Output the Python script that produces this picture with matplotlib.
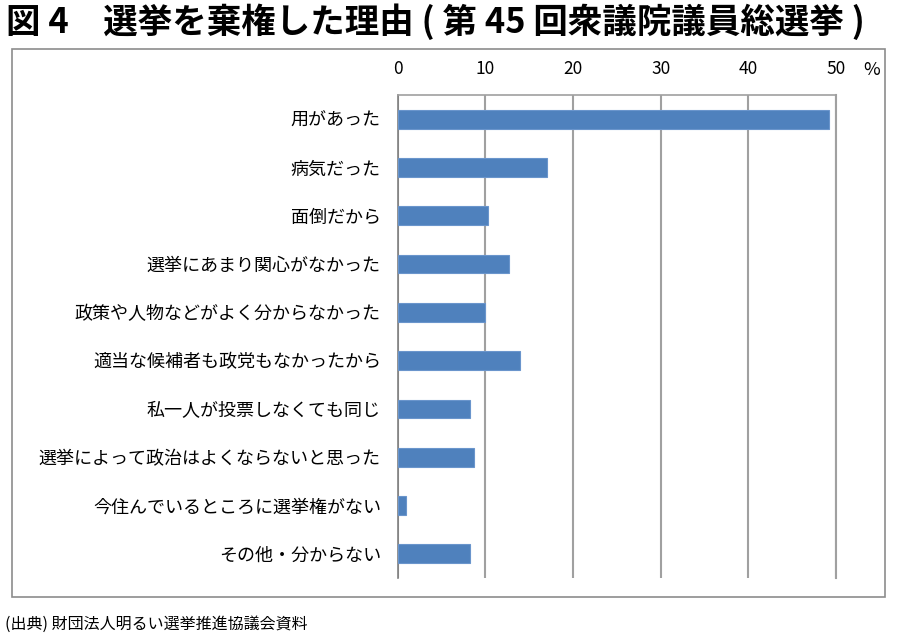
import matplotlib
matplotlib.use("Agg")
import matplotlib.pyplot as plt
from matplotlib.patches import Rectangle

plt.rcParams['font.family'] = ['Noto Sans CJK JP', 'DejaVu Sans']

reasons = [
    "用があった",
    "病気だった",
    "面倒だから",
    "選挙にあまり関心がなかった",
    "政策や人物などがよく分からなかった",
    "適当な候補者も政党もなかったから",
    "私一人が投票しなくても同じ",
    "選挙によって政治はよくならないと思った",
    "今住んでいるところに選挙権がない",
    "その他・分からない",
]
percents = [49.2, 17.1, 10.3, 12.7, 10.0, 14.0, 8.3, 8.7, 1.0, 8.3]
xticks = [0, 10, 20, 30, 40, 50]

title = "図 4　選挙を棄権した理由 ( 第 45 回衆議院議員総選挙 )"
source = "(出典) 財団法人明るい選挙推進協議会資料"

fig = plt.figure(figsize=(9, 6.43), dpi=100)

# outer frame
fig.patches.append(Rectangle((0.0133, 0.0715), 0.97, 0.8523, transform=fig.transFigure,
                             fill=False, edgecolor='#8c8c8c', linewidth=1.2))

ax = fig.add_axes([0.4417, 0.1011, 0.4872, 0.7512])
ypos = list(range(len(reasons)))
ax.barh(ypos, percents, height=0.39, color='#4F81BD', edgecolor='#6a95cc', linewidth=0.8, zorder=3)

ax.set_xlim(0, 50)
ax.set_ylim(-0.5, len(reasons) - 0.5)
ax.invert_yaxis()
ax.set_yticks(ypos)
ax.set_yticklabels(reasons, fontsize=13)
ax.set_xticks(xticks)
ax.xaxis.tick_top()
ax.tick_params(axis='x', length=0, pad=12, labelsize=12.5)
ax.tick_params(axis='y', length=0, pad=12)
ax.grid(axis='x', color='#a0a0a0', linewidth=1.5, zorder=0)

ax.spines['bottom'].set_visible(False)
ax.spines['left'].set_color('#808080')
ax.spines['left'].set_linewidth(1.2)
ax.spines['top'].set_color('#a0a0a0')
ax.spines['top'].set_linewidth(1.2)
ax.spines['right'].set_color('#a0a0a0')
ax.spines['right'].set_linewidth(1.5)

fig.text(872 / 900, 1 - 70 / 643, "%", fontsize=13, ha='center', va='center')
fig.text(6 / 900, 1 - 22 / 643, title, fontsize=24.8, fontweight='bold', ha='left', va='center')
fig.text(5 / 900, 1 - 624 / 643, source, fontsize=11.5, ha='left', va='center')

fig.savefig("out.png", dpi=100)
